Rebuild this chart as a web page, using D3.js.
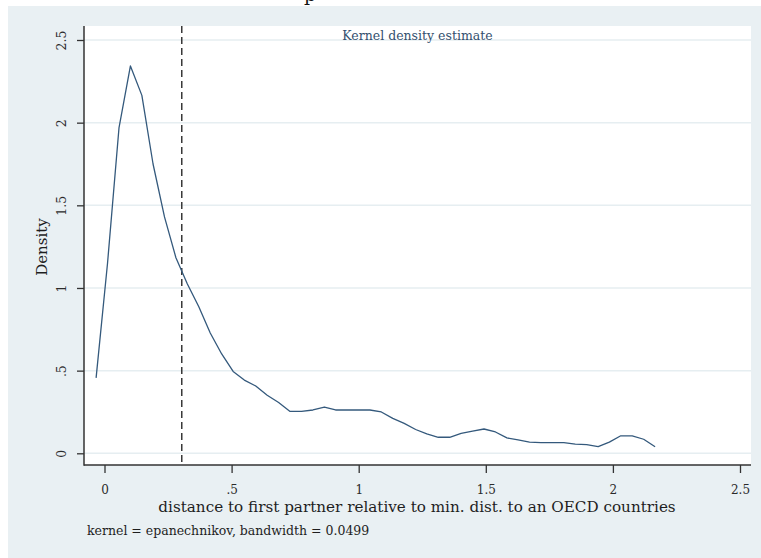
<!DOCTYPE html>
<html>
<head>
<meta charset="utf-8">
<script src="https://cdn.jsdelivr.net/npm/d3@7"></script>
<style>
  html, body { margin: 0; padding: 0; background: #ffffff; }
  svg { display: block; }
  text { font-family: "DejaVu Serif", "Liberation Serif", serif; }
</style>
</head>
<body>
<script>
// Kernel density evaluation grid and estimated density
const gridX = [-0.033, 0.012, 0.057, 0.102, 0.147, 0.191, 0.236, 0.281, 0.326, 0.371,
               0.416, 0.461, 0.506, 0.550, 0.595, 0.640, 0.685, 0.730, 0.775, 0.820,
               0.865, 0.909, 0.954, 0.999, 1.044, 1.089, 1.134, 1.179, 1.224, 1.268,
               1.313, 1.358, 1.403, 1.448, 1.493, 1.538, 1.583, 1.627, 1.672, 1.717,
               1.762, 1.807, 1.852, 1.897, 1.942, 1.986, 2.031, 2.076, 2.121, 2.166];
const density = [0.456, 1.151, 1.968, 2.343, 2.165, 1.750, 1.430, 1.183, 1.024, 0.886,
                 0.728, 0.601, 0.495, 0.443, 0.407, 0.351, 0.307, 0.253, 0.253, 0.262,
                 0.280, 0.262, 0.262, 0.262, 0.262, 0.250, 0.211, 0.181, 0.144, 0.117,
                 0.097, 0.097, 0.121, 0.134, 0.147, 0.129, 0.093, 0.081, 0.068, 0.064,
                 0.064, 0.064, 0.056, 0.053, 0.041, 0.068, 0.106, 0.106, 0.085, 0.040];
// Reference line position
const refLine = 0.304;
// Tick values and labels
const xTicks = [0, 0.5, 1, 1.5, 2, 2.5];
const xTickLabels = ["0", ".5", "1", "1.5", "2", "2.5"];
const yTicks = [0, 0.5, 1, 1.5, 2, 2.5];
const yTickLabels = ["0", ".5", "1", "1.5", "2", "2.5"];
const titleText = "Kernel density estimate";
const xTitle = "distance to first partner relative to min. dist. to an OECD countries";
const yTitle = "Density";
const noteText = "kernel = epanechnikov, bandwidth = 0.0499";

const W = 761, H = 558;
const plot = { left: 84, top: 26, right: 751, bottom: 465 };

const svg = d3.select("body").append("svg").attr("width", W).attr("height", H);

// outer graph region
svg.append("rect").attr("x", 8).attr("y", 6).attr("width", W - 8).attr("height", H - 6)
  .attr("fill", "#e9f0f3");
// cut-off heading glyph above the graph region
svg.append("text").attr("x", 310).attr("y", 0.5).attr("text-anchor", "middle")
  .attr("font-size", 19).attr("fill", "#111").text("p");

// plot region
svg.append("rect").attr("x", plot.left).attr("y", plot.top)
  .attr("width", plot.right - plot.left).attr("height", plot.bottom - plot.top)
  .attr("fill", "#ffffff");

const x = d3.scaleLinear().domain([0, 2.5]).range([104.5, 740]);
const y = d3.scaleLinear().domain([0, 2.5]).range([453.3, 40]);

// horizontal grid lines
svg.append("g").selectAll("line").data(yTicks).join("line")
  .attr("x1", plot.left).attr("x2", plot.right)
  .attr("y1", d => y(d)).attr("y2", d => y(d))
  .attr("stroke", "#e6eef1").attr("stroke-width", 1.5);

// title inside plot region
svg.append("text").attr("x", 417.5).attr("y", 39.5).attr("text-anchor", "middle")
  .attr("font-size", 12.5).attr("fill", "#34506e").text(titleText);

// vertical dashed reference line
svg.append("line").attr("x1", x(refLine)).attr("x2", x(refLine))
  .attr("y1", plot.top).attr("y2", plot.bottom)
  .attr("stroke", "#2b2b2b").attr("stroke-width", 1.4).attr("stroke-dasharray", "7,4");

// density curve
const pts = gridX.map((v, i) => [v, density[i]]);
svg.append("path").datum(pts)
  .attr("d", d3.line().x(d => x(d[0])).y(d => y(d[1])))
  .attr("fill", "none").attr("stroke", "#34597c").attr("stroke-width", 1.3)
  .attr("stroke-linejoin", "round");

// x axis
const xAxis = d3.axisBottom(x).tickValues(xTicks)
  .tickFormat((d, i) => xTickLabels[i]).tickSize(8).tickSizeOuter(0);
const gx = svg.append("g").attr("transform", `translate(0,${plot.bottom})`).call(xAxis);
gx.select(".domain").remove();
gx.selectAll(".tick line").attr("stroke", "#333").attr("stroke-width", 1.3);
gx.selectAll(".tick text").attr("y", 29).attr("dy", null)
  .attr("font-size", 12).attr("fill", "#2a2a2a")
  .attr("font-family", "'DejaVu Serif', serif");

// y axis
const yAxis = d3.axisLeft(y).tickValues(yTicks)
  .tickFormat((d, i) => yTickLabels[i]).tickSize(7).tickSizeOuter(0);
const gy = svg.append("g").attr("transform", `translate(${plot.left},0)`).call(yAxis);
gy.select(".domain").remove();
gy.selectAll(".tick line").attr("stroke", "#333").attr("stroke-width", 1.3);
gy.selectAll(".tick text")
  .attr("x", 0).attr("dy", null).attr("y", 0)
  .attr("transform", "translate(-18,0) rotate(-90)")
  .attr("text-anchor", "middle").attr("dominant-baseline", "auto")
  .attr("font-size", 12.5).attr("fill", "#2a2a2a")
  .attr("font-family", "'DejaVu Serif', serif");

// axis lines
svg.append("line").attr("x1", plot.left).attr("x2", plot.left)
  .attr("y1", plot.top).attr("y2", plot.bottom + 0.7)
  .attr("stroke", "#333").attr("stroke-width", 1.5);
svg.append("line").attr("x1", plot.left).attr("x2", plot.right)
  .attr("y1", plot.bottom).attr("y2", plot.bottom)
  .attr("stroke", "#333").attr("stroke-width", 1.5);

// axis titles
svg.append("text").attr("x", 417).attr("y", 512).attr("text-anchor", "middle")
  .attr("font-size", 15.2).attr("fill", "#1e1e1e").text(xTitle);
svg.append("text").attr("transform", "translate(46.5,247) rotate(-90)")
  .attr("text-anchor", "middle").attr("font-size", 15).attr("fill", "#1e1e1e").text(yTitle);

// note
svg.append("text").attr("x", 87).attr("y", 535)
  .attr("font-size", 12.5).attr("fill", "#1e1e1e").text(noteText);
</script>
</body>
</html>
